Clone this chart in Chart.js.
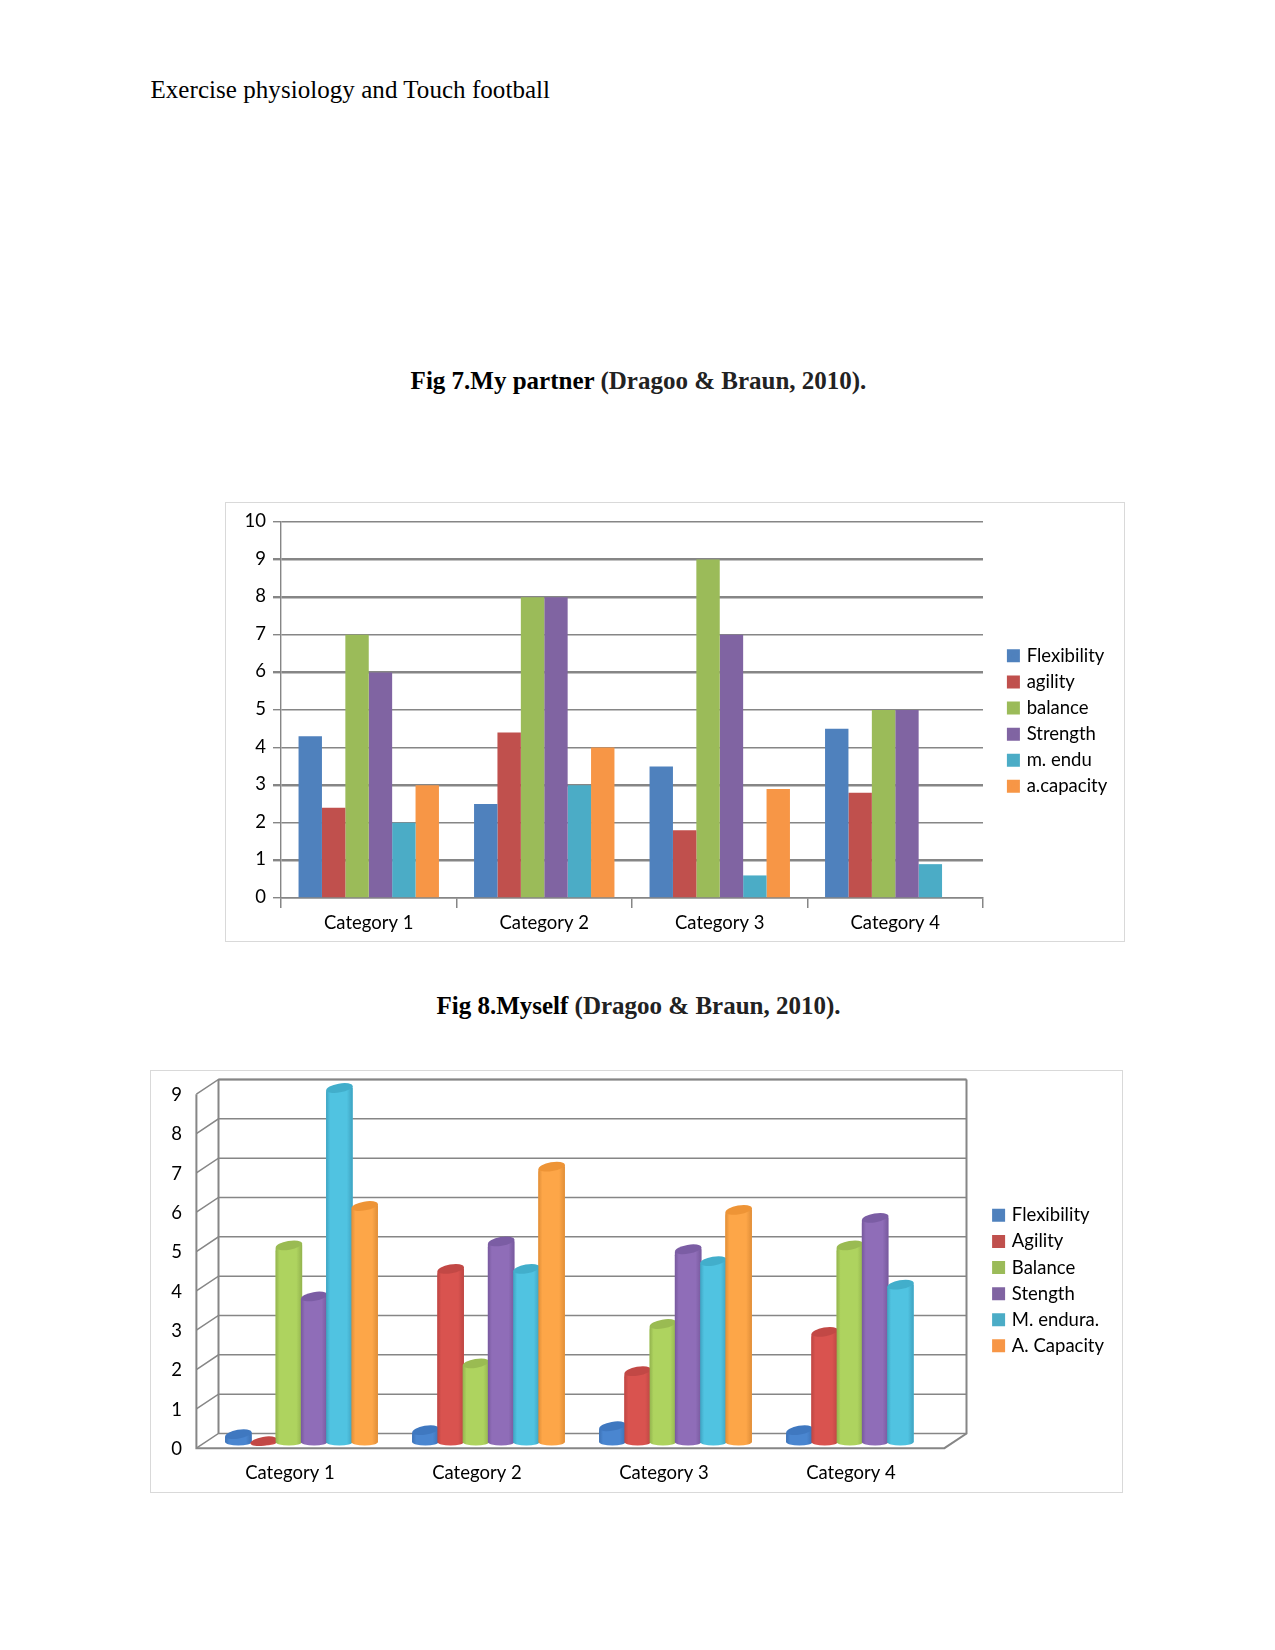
<!DOCTYPE html>
<html>
<head>
<meta charset="utf-8">
<title>Exercise physiology and Touch football</title>
<script src="https://cdn.jsdelivr.net/npm/chart.js@4"></script>
<style>
html,body{margin:0;padding:0;background:#fff;}
#page{position:relative;width:1275px;height:1650px;overflow:hidden;}
.txt{position:absolute;font-family:"Liberation Serif",serif;color:#000;white-space:nowrap;}
.cap{font-weight:bold;font-size:25px;left:0;width:1277px;text-align:center;}
.cap span{color:#222;}
.box{position:absolute;border:1px solid #d9d9d9;box-sizing:border-box;background:#fff;}
canvas{display:block;}
</style>
</head>
<body>
<div id="page">
  <div class="txt" style="left:150.5px;top:76px;font-size:25px;letter-spacing:0.05px;">Exercise physiology and Touch football</div>
  <div class="txt cap" style="top:367px;">Fig 7.My partner <span>(Dragoo &amp; Braun, 2010).</span></div>
  <div class="box" style="left:225px;top:502px;width:900px;height:440px;"><canvas id="partnerChart" width="898" height="438"></canvas></div>
  <div class="txt cap" style="top:992px;">Fig 8.Myself <span>(Dragoo &amp; Braun, 2010).</span></div>
  <div class="box" style="left:150px;top:1070px;width:973px;height:423px;"><canvas id="myselfChart" width="971" height="421"></canvas></div>
</div>
<script>
const categories = ["Category 1", "Category 2", "Category 3", "Category 4"];

// Fig 7
const partnerLabels = ["Flexibility", "agility", "balance", "Strength", "m. endu", "a.capacity"];
const partnerFlexibility = [4.3, 2.5, 3.5, 4.5];
const partnerAgility = [2.4, 4.4, 1.8, 2.8];
const partnerBalance = [7, 8, 9, 5];
const partnerStrength = [6, 8, 7, 5];
const partnerEndurance = [2, 3, 0.6, 0.9];
const partnerCapacity = [3, 4, 2.9, null];

// Fig 8
const myselfLabels = ["Flexibility", "Agility", "Balance", "Stength", "M. endura.", "A. Capacity"];
const myselfFlexibility = [0.2, 0.3, 0.4, 0.3];
const myselfAgility = [0.02, 4.4, 1.8, 2.8];
const myselfBalance = [5, 2, 3, 5];
const myselfStrength = [3.7, 5.1, 4.9, 5.7];
const myselfEndurance = [9, 4.4, 4.6, 4];
const myselfCapacity = [6, 7, 5.9, null];

const flatColors = ["#4f81bd", "#c0504d", "#9bbb59", "#8064a2", "#4bacc6", "#f79646"];
const bodyColors = ["#4a86d0", "#d9534f", "#aed35f", "#8f6db8", "#50c3e1", "#fda648"];
const edgeColors = ["#3d72b6", "#bd4643", "#93b34e", "#77599d", "#3fa3c1", "#e08e38"];
const topColors = ["#3f78c0", "#c24845", "#9abb52", "#7b5da4", "#42aecb", "#ee9436"];

const gridColor = "#868686";
const fontFamily = "Lato, 'Open Sans', sans-serif";
const fontSize = 18.5;
const thickLines = [1, 3, 6, 8, 9];

// keeps the legend where it sits in the reference, independent of the plot
function placeLegend(x, y) {
    return {
        id: "placeLegend",
        afterLayout(chart) {
            const l = chart.legend;
            const h = l.height, w = l.width;
            l.left = x; l.right = x + w;
            l.top = y; l.bottom = y + h;
        }
    };
}

function legendOptions(colors) {
    return {
        position: "chartArea",
        align: "start",
        labels: {
            color: "#000",
            font: { family: fontFamily, size: fontSize },
            boxWidth: 8,
            boxHeight: 8,
            padding: 7.6,
            generateLabels(chart) {
                return chart.data.datasets.map((ds, i) => ({
                    text: ds.label,
                    fillStyle: colors[i],
                    strokeStyle: colors[i],
                    lineWidth: 5,
                    datasetIndex: i,
                    hidden: false
                }));
            }
        }
    };
}

new Chart(document.getElementById("partnerChart"), {
    type: "bar",
    data: {
        labels: categories,
        datasets: [partnerFlexibility, partnerAgility, partnerBalance, partnerStrength, partnerEndurance, partnerCapacity].map((values, i) => ({
            label: partnerLabels[i],
            data: values,
            backgroundColor: flatColors[i],
            categoryPercentage: 0.8,
            barPercentage: 1
        }))
    },
    options: {
        responsive: false,
        animation: false,
        layout: { padding: { top: 19, right: 141, bottom: 0, left: 0 } },
        plugins: { legend: legendOptions(flatColors), tooltip: { enabled: false } },
        scales: {
            x: {
                grid: { drawOnChartArea: false, color: gridColor, tickLength: 10, lineWidth: 1.5 },
                border: { color: gridColor, width: 1.5 },
                ticks: { color: "#000", font: { family: fontFamily, size: fontSize }, padding: 4 },
                afterFit(scale) { scale.height = 43; }
            },
            y: {
                min: 0,
                max: 10,
                grid: {
                    color: gridColor,
                    tickLength: 8,
                    lineWidth: c => thickLines.includes(c.tick && c.tick.value) ? 2.4 : 1.4
                },
                border: { color: gridColor, width: 1.4 },
                ticks: { stepSize: 1, color: "#000", font: { family: fontFamily, size: fontSize }, padding: 7, labelOffset: -1 },
                afterFit(scale) { scale.width = 55; }
            }
        }
    },
    plugins: [placeLegend(775.8, 136)]
});

// back wall, side wall and floor behind the cylinders
const wallsPlugin = {
    id: "walls",
    beforeDatasetsDraw(chart) {
        const { ctx, scales: { x, y } } = chart;
        const backX = x.left + 10.5, backRight = x.right + 10.5;
        const frontX = x.left - 11.6, frontRight = x.right - 11.6;
        const backDy = -8.5, frontDy = 6.2;
        ctx.save();
        ctx.strokeStyle = gridColor;
        ctx.lineWidth = 1.5;
        y.ticks.forEach(t => {
            const p = y.getPixelForValue(t.value);
            ctx.beginPath();
            ctx.moveTo(frontX, p + frontDy);
            ctx.lineTo(backX, p + backDy);
            ctx.lineTo(backRight, p + backDy);
            ctx.stroke();
        });
        const y0 = y.getPixelForValue(0), y9 = y.getPixelForValue(9);
        ctx.lineWidth = 2;
        ctx.beginPath();
        ctx.moveTo(backX, y9 + backDy); ctx.lineTo(backX, y0 + backDy);
        ctx.moveTo(backRight, y9 + backDy); ctx.lineTo(backRight, y0 + backDy);
        ctx.lineTo(frontRight, y0 + frontDy); ctx.lineTo(frontX, y0 + frontDy);
        ctx.lineTo(frontX, y9 + frontDy);
        ctx.moveTo(backX, y9 + backDy); ctx.lineTo(backRight, y9 + backDy);
        ctx.stroke();
        ctx.restore();
    }
};

// paints each library bar as a cylinder, left to right so later ones overlap
const cylinderPlugin = {
    id: "cylinders",
    afterDatasetsDraw(chart) {
        const ctx = chart.ctx;
        chart.data.datasets.forEach((ds, i) => {
            chart.getDatasetMeta(i).data.forEach((el, j) => {
                if (ds.data[j] === null) return;
                const r = el.width / 2;
                const x0 = el.x - r, x1 = el.x + r;
                const tilt = 0.17;
                const dy = Math.sin(tilt) * r;
                const g = ctx.createLinearGradient(x0, 0, x1, 0);
                g.addColorStop(0, edgeColors[i]);
                g.addColorStop(0.15, bodyColors[i]);
                g.addColorStop(0.78, bodyColors[i]);
                g.addColorStop(1, edgeColors[i]);
                ctx.save();
                ctx.fillStyle = g;
                ctx.beginPath();
                ctx.moveTo(x0, el.y + dy);
                ctx.lineTo(x0, el.base);
                ctx.ellipse(el.x, el.base, r, 3.5, 0, Math.PI, 0, true);
                ctx.lineTo(x1, el.y - dy);
                ctx.closePath();
                ctx.fill();
                ctx.fillStyle = topColors[i];
                ctx.beginPath();
                ctx.ellipse(el.x, el.y, r, 4.4, -tilt, 0, Math.PI * 2);
                ctx.fill();
                ctx.restore();
            });
        });
    }
};

new Chart(document.getElementById("myselfChart"), {
    type: "bar",
    data: {
        labels: categories,
        datasets: [myselfFlexibility, myselfAgility, myselfBalance, myselfStrength, myselfEndurance, myselfCapacity].map((values, i) => ({
            label: myselfLabels[i],
            data: values,
            backgroundColor: bodyColors[i],
            borderRadius: { topLeft: 6, topRight: 0, bottomLeft: 0, bottomRight: 0 },
            borderSkipped: false,
            categoryPercentage: 0.81,
            barPercentage: 1.05
        }))
    },
    options: {
        responsive: false,
        animation: false,
        layout: { padding: { top: 17, right: 166, bottom: 0, left: 0 } },
        plugins: { legend: legendOptions(flatColors), tooltip: { enabled: false } },
        scales: {
            x: {
                grid: { display: false },
                border: { display: false },
                ticks: { color: "#000", font: { family: fontFamily, size: fontSize }, padding: 12, labelOffset: -11.6 },
                afterFit(scale) { scale.height = 50; }
            },
            y: {
                min: 0,
                max: 9,
                grid: { display: false, drawTicks: false },
                border: { display: false },
                ticks: { stepSize: 1, color: "#000", font: { family: fontFamily, size: fontSize }, padding: 26, labelOffset: 7 },
                afterFit(scale) { scale.width = 57; scale.paddingTop = 0; scale.paddingBottom = 0; }
            }
        }
    },
    plugins: [wallsPlugin, cylinderPlugin, placeLegend(836, 127.5)]
});
</script>
</body>
</html>
